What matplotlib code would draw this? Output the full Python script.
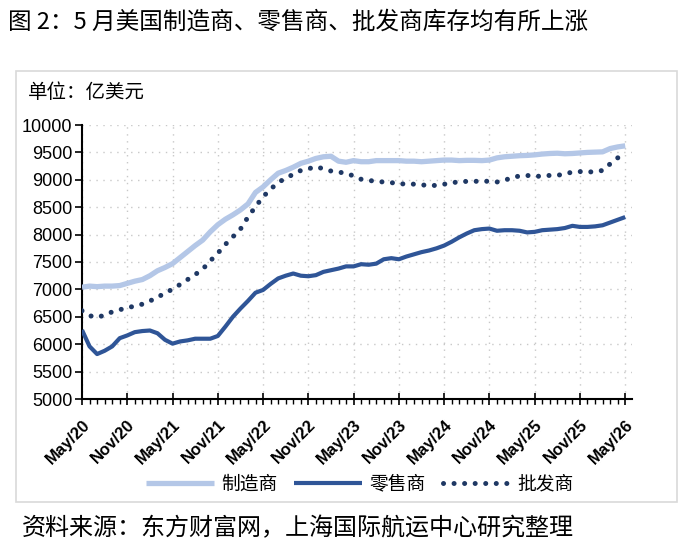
import matplotlib
matplotlib.use("Agg")
import matplotlib.pyplot as plt
from matplotlib.patches import Rectangle
from matplotlib.ticker import MultipleLocator, FixedLocator

# Monthly data, May 2020 ... May 2026 (unit: 亿美元)
manufacturers = [7040, 7060, 7050, 7060, 7060, 7070, 7110, 7150, 7180, 7250, 7340, 7400,
                 7470, 7580, 7690, 7800, 7900, 8050, 8180, 8280, 8360, 8450, 8560, 8770,
                 8870, 9000, 9120, 9170, 9230, 9300, 9340, 9390, 9420, 9430, 9340, 9320,
                 9350, 9330, 9330, 9350, 9350, 9350, 9350, 9340, 9340, 9330, 9340, 9350,
                 9360, 9360, 9350, 9355, 9355, 9350, 9360, 9400, 9420, 9430, 9440, 9445,
                 9455, 9470, 9480, 9485, 9475, 9480, 9490, 9500, 9505, 9510, 9570, 9600,
                 9620]
retailers = [6260, 5960, 5820, 5880, 5960, 6110, 6160, 6220, 6240, 6250, 6200, 6080,
             6010, 6050, 6070, 6100, 6100, 6100, 6150, 6320, 6500, 6650, 6790, 6940,
             6990, 7100, 7200, 7250, 7290, 7250, 7240, 7260, 7320, 7350, 7380, 7420,
             7420, 7460, 7450, 7470, 7550, 7570, 7550, 7600, 7640, 7680, 7710, 7750,
             7800, 7870, 7950, 8020, 8080, 8100, 8110, 8070, 8080, 8080, 8070, 8040,
             8050, 8080, 8090, 8100, 8120, 8160, 8140, 8140, 8150, 8170, 8220, 8270,
             8320]
wholesalers = [6610, 6520, 6490, 6530, 6590, 6630, 6660, 6700, 6730, 6790, 6850, 6940,
               7000, 7090, 7180, 7270, 7370, 7520, 7660, 7820, 7960, 8100, 8320, 8510,
               8690, 8830, 8950, 9030, 9100, 9170, 9200, 9240, 9200, 9160, 9140, 9120,
               9070, 9010, 8990, 8970, 8960, 8950, 8920, 8930, 8920, 8910, 8890, 8900,
               8920, 8940, 8970, 8970, 8970, 8980, 8970, 8960, 8990, 9040, 9070, 9080,
               9060, 9070, 9080, 9080, 9110, 9140, 9150, 9140, 9150, 9170, 9290, 9400,
               9460]
tick_labels = ['May/20', 'Nov/20', 'May/21', 'Nov/21', 'May/22', 'Nov/22', 'May/23',
               'Nov/23', 'May/24', 'Nov/24', 'May/25', 'Nov/25', 'May/26']
series_names = ['制造商', '零售商', '批发商']

CJK = ['Noto Sans CJK SC', 'DejaVu Sans']
NUM = ['Liberation Sans', 'DejaVu Sans']
plt.rcParams['font.family'] = CJK

fig = plt.figure(figsize=(6.9, 5.47), dpi=100)
fig.patch.set_facecolor('white')

# outer light-gray frame
fig.patches.append(Rectangle((16 / 690, 1 - 502 / 547), (677 - 16) / 690, (502 - 71) / 547,
                             transform=fig.transFigure, fill=False,
                             edgecolor='#d9d9d9', linewidth=1.2))

ax = fig.add_axes([82 / 690, 1 - 399 / 547, (632 - 82) / 690, (399 - 125) / 547])

x = list(range(len(manufacturers)))
ax.plot(x, manufacturers, color='#b4c7e7', lw=3.8, solid_capstyle='butt',
        label=series_names[0], zorder=3)
ax.plot(x, retailers, color='#2f5597', lw=3.0, solid_capstyle='butt',
        label=series_names[1], zorder=4)
ax.plot(x, wholesalers, color='#1f3864', lw=3.6, linestyle=(0, (0.01, 2.1)),
        dash_capstyle='round', label=series_names[2], zorder=5)

ax.set_xlim(0, 72.9)
ax.set_ylim(5000, 10000)

major_x = list(range(0, 73, 6))
ax.xaxis.set_major_locator(FixedLocator(major_x))
ax.xaxis.set_minor_locator(FixedLocator([m for m in range(0, 73) if m % 6]))
ax.set_xticklabels(tick_labels, rotation=45, ha='right', va='top',
                   rotation_mode='anchor', fontfamily=NUM, fontweight='bold',
                   fontsize=12)
ax.yaxis.set_major_locator(MultipleLocator(500))
for lab in ax.get_yticklabels():
    lab.set_fontfamily(NUM)
    lab.set_fontsize(13)

ax.tick_params(axis='x', which='major', direction='inout', length=8, width=1.2,
               pad=9)
ax.tick_params(axis='x', which='minor', direction='out', length=3.5, width=1.0)
ax.tick_params(axis='y', which='major', direction='out', length=5, width=1.2,
               pad=2)

for s in ['top', 'right']:
    ax.spines[s].set_visible(False)
for s in ['left', 'bottom']:
    ax.spines[s].set_linewidth(1.5)
    ax.spines[s].set_color('black')

ax.grid(True, which='major', axis='both', color='#c8c8c8', linestyle=(0, (1, 4)),
        linewidth=1.0)
ax.set_axisbelow(True)

fig.text(8 / 690, 1 - 22 / 547, '图 2：5 月美国制造商、零售商、批发商库存均有所上涨',
         fontsize=17, va='center', ha='left', color='black')
fig.text(28 / 690, 1 - 93 / 547, '单位：亿美元', fontsize=14, va='center', ha='left')
fig.text(22 / 690, 1 - 528 / 547, '资料来源：东方财富网，上海国际航运中心研究整理',
         fontsize=17.3, va='center', ha='left')

fig.legend(loc='center', bbox_to_anchor=(360 / 690, 1 - 484 / 547), ncol=3,
           frameon=False, fontsize=13.5, handlelength=3.6, handletextpad=0.4,
           columnspacing=0.9)

fig.savefig('out.png', dpi=100, facecolor='white')
